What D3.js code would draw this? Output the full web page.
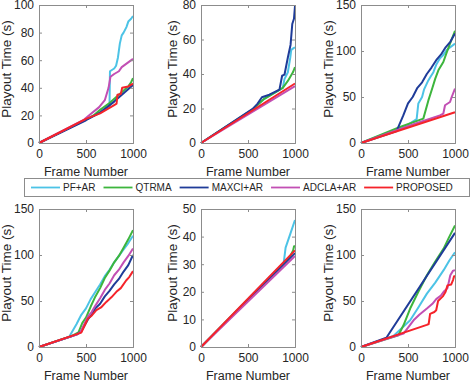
<!DOCTYPE html>
<html>
<head>
<meta charset="utf-8">
<script src="https://cdn.jsdelivr.net/npm/d3@7"></script>
<style>
  body { margin: 0; background: #fff; }
  text { font-family: "Liberation Sans", Arial, sans-serif; fill: #262626; }
</style>
</head>
<body>
<svg id="chart" width="472" height="381"></svg>
<script>
const seriesNames = ['PF+AR', 'QTRMA', 'MAXCI+AR', 'ADCLA+AR', 'PROPOSED'];
const seriesColors = ['#4cc3e6', '#3db53d', '#1f3c99', '#c24fb4', '#f5232a'];

const xTicks = [0, 500, 1000];

// panel 1 (top left)
const p1PF = [[0,0],[500,17],[650,22],[750,27],[755,52],[800,54],[820,56],[840,62],[860,72],[880,78],[900,80],[930,84],[950,88],[980,90],[1000,92]];
const p1QT = [[0,0],[500,17],[580,20],[650,24],[750,29],[850,35],[950,41],[980,44],[1000,47]];
const p1MX = [[0,0],[500,16.5],[650,22],[800,30],[900,36],[1000,42]];
const p1AD = [[0,0],[480,17],[550,21],[640,26],[700,31],[740,40],[760,48],[800,50],[850,52],[880,55],[920,57],[960,59],[1000,61]];
const p1PR = [[0,0],[500,17.5],[650,21.5],[800,27.5],[825,28.5],[835,35],[870,35.5],[885,40],[950,41],[1000,43]];

// panel 2 (top middle)
const p2PF = [[0,0],[550,19.5],[673,25.6],[870,32],[888,37],[924,41],[950,49.6],[960,54],[985,55],[1000,55.4]];
const p2QT = [[0,0],[550,19.5],[673,25.6],[870,32],[924,36],[978,41],[1000,44]];
const p2MX = [[0,0],[550,19.8],[600,22.7],[648,26.5],[727,28],[835,31],[863,39],[888,39.6],[924,49.6],[953,57],[971,69],[989,72],[1000,79.4]];
const p2AD = [[0,0],[1000,33]];
const p2PR = [[0,0],[1000,34.5]];

// panel 3 (top right)
const p3PF = [[0,0],[486,19],[592,26],[610,43],[650,50],[670,58],[716,68],[740,72],[770,77],[800,85],[840,92],[870,95],[911,101],[950,104],[1000,108]];
const p3QT = [[0,0],[415,17.4],[663,26.5],[716,46],[760,60],[790,70],[823,79],[876,88],[910,98],[947,108],[1000,122]];
const p3MX = [[0,0],[380,13],[400,18],[450,30],[500,43],[550,50],[600,60],[650,66],[700,75],[750,82],[800,90],[850,96],[900,104],[950,110],[1000,119]];
const p3AD = [[0,0],[574,21],[840,30],[876,32],[894,41],[947,44.6],[965,50],[1000,59]];
const p3PR = [[0,0],[1000,33.5]];

// panel 4 (bottom left)
const p4PF = [[0,0],[320,11],[360,18],[400,25],[450,35],[500,42],[550,52],[600,60],[650,68],[700,77],[750,84],[800,92],[850,99],[900,106],[950,113],[1000,121]];
const p4QT = [[0,0],[350,12],[420,16],[460,26],[500,32],[550,44],[600,55],[650,64],[700,75],[750,83],[800,92],[850,99],[900,108],[950,117],[1000,127]];
const p4MX = [[0,0],[400,13.5],[450,17],[520,30],[560,35],[600,42],[650,47],[700,55],[750,61],[800,68],[850,74],[900,82],[950,89],[1000,100]];
const p4AD = [[0,0],[400,13.5],[440,16],[520,33],[560,38],[600,45],[650,53],[700,62],[750,69],[800,78],[850,84],[900,92],[950,99],[1000,107]];
const p4PR = [[0,0],[450,15.6],[521,31],[560,34],[610,40],[660,43],[716,49],[770,54],[823,60],[870,64],[929,72.6],[960,76],[1000,82.5]];

// panel 5 (bottom middle)
const p5PF = [[0,0],[880,30.5],[900,36],[950,41],[1000,46]];
const p5QT = [[0,0],[900,31],[950,33],[980,35],[990,36.5],[1000,36.5]];
const p5MX = [[0,0],[1000,34]];
const p5AD = [[0,0],[1000,33]];
const p5PR = [[0,0],[1000,35]];

// panel 6 (bottom right)
const p6PF = [[0,0],[345,12],[430,20],[523,29],[610,43],[701,58],[790,70],[879,83.5],[940,94],[1000,103]];
const p6QT = [[0,0],[398,12.7],[452,23.6],[523,41.8],[610,60],[701,78],[790,93],[879,107],[940,120],[1000,132]];
const p6MX = [[0,0],[270,10],[1000,124]];
const p6AD = [[0,0],[452,14.5],[559,29],[620,35],[701,41.8],[760,47],[800,52],[850,56],[879,60],[920,64],[950,78],[980,83],[1000,83.5]];
const p6PR = [[0,0],[700,24],[720,25],[735,36],[780,38],[800,40],[820,50],[870,55],[900,60],[920,67],[960,68],[980,73],[990,77],[1000,77]];

const yMaxes = [100, 80, 150, 150, 50, 150];
const yTickSets = [[0,20,40,60,80,100],[0,20,40,60,80],[0,50,100,150],[0,50,100,150],[0,10,20,30,40,50],[0,50,100,150]];
const panelData = [
  [p1PF, p1QT, p1MX, p1AD, p1PR],
  [p2PF, p2QT, p2MX, p2AD, p2PR],
  [p3PF, p3QT, p3MX, p3AD, p3PR],
  [p4PF, p4QT, p4MX, p4AD, p4PR],
  [p5PF, p5QT, p5MX, p5AD, p5PR],
  [p6PF, p6QT, p6MX, p6AD, p6PR]
];

const colLeft = [39, 201, 361];
const rowTop = [5, 209];
const pw = 94, ph = 138;
const axisColor = '#8c8c8c';

const svg = d3.select('#chart');

panelData.forEach((series, i) => {
  const left = colLeft[i % 3], top = rowTop[Math.floor(i / 3)];
  const g = svg.append('g').attr('transform', `translate(${left},${top})`);

  const x = d3.scaleLinear().domain([0, 1000]).range([0, pw]);
  const y = d3.scaleLinear().domain([0, yMaxes[i]]).range([ph, 0]);

  const line = d3.line().x(d => x(d[0])).y(d => y(d[1]));

  // data lines
  series.forEach((pts, k) => {
    g.append('path')
      .attr('d', line(pts))
      .attr('fill', 'none')
      .attr('stroke', seriesColors[k])
      .attr('stroke-width', 2)
      .attr('stroke-linejoin', 'round');
  });

  // axes (ticks inside, mirrored like a boxed plot)
  const xa = g.append('g').attr('transform', `translate(0,${ph})`)
    .call(d3.axisBottom(x).tickValues(xTicks).tickSize(-3).tickPadding(6).tickFormat(d3.format('d')));
  const xt = g.append('g')
    .call(d3.axisTop(x).tickValues(xTicks).tickSize(-3).tickFormat(''));
  const ya = g.append('g')
    .call(d3.axisLeft(y).tickValues(yTickSets[i]).tickSize(-3).tickPadding(5).tickFormat(d3.format('d')));
  const yr = g.append('g').attr('transform', `translate(${pw},0)`)
    .call(d3.axisRight(y).tickValues(yTickSets[i]).tickSize(-3).tickFormat(''));

  [xa, xt, ya, yr].forEach(a => {
    a.select('.domain').attr('stroke', axisColor);
    a.selectAll('.tick line').attr('stroke', axisColor);
    a.selectAll('text').style('font-size', '12px').attr('fill', '#262626')
      .style('font-family', '"Liberation Sans", Arial, sans-serif');
  });

  g.append('text')
    .attr('x', pw / 2).attr('y', ph + 33)
    .attr('text-anchor', 'middle')
    .style('font-size', '12.5px')
    .text('Frame Number');

  const labelX = i % 3 === 0 ? -28 : (i % 3 === 1 ? -24 : -28);
  g.append('text')
    .attr('transform', `translate(${labelX},${ph / 2 - 5}) rotate(-90)`)
    .attr('text-anchor', 'middle')
    .style('font-size', '13.5px')
    .text('Playout Time (s)');
});

// legend
const lg = svg.append('g');
lg.append('rect')
  .attr('x', 24.5).attr('y', 178.5).attr('width', 445).attr('height', 18)
  .attr('fill', '#fff').attr('stroke', '#8c8c8c');

let cx = 31;
seriesNames.forEach((name, k) => {
  lg.append('line')
    .attr('x1', cx).attr('x2', cx + 29).attr('y1', 187.5).attr('y2', 187.5)
    .attr('stroke', seriesColors[k]).attr('stroke-width', 1.8);
  const t = lg.append('text')
    .attr('x', cx + 32).attr('y', 191)
    .style('font-size', '10px')
    .text(name);
  cx += 32 + t.node().getComputedTextLength() + 8;
});
</script>
</body>
</html>
